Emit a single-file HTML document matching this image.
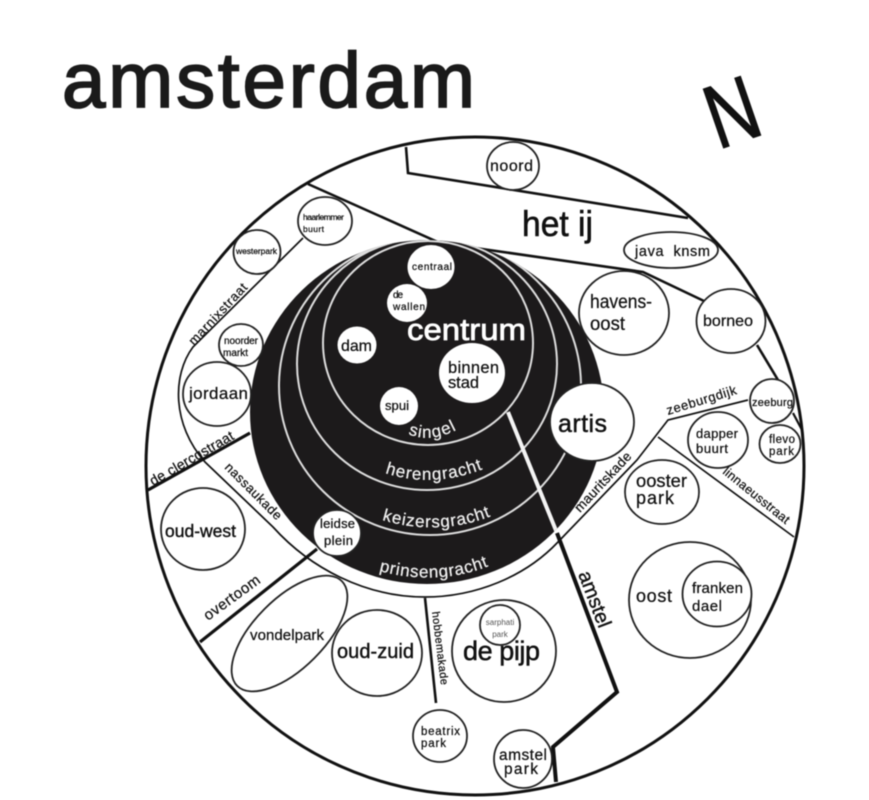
<!DOCTYPE html>
<html lang="nl">
<head>
<meta charset="utf-8">
<title>amsterdam</title>
<style>
html,body{margin:0;padding:0;background:#fff;}
svg{display:block;filter:blur(.4px);}
text{font-family:"Liberation Sans",sans-serif;fill:#111;stroke:#111;stroke-width:.25;}
.c{fill:#fff;stroke:#222;stroke-width:1.8;}
.l{fill:none;stroke:#111;stroke-width:1.7;}
.t{fill:none;stroke:#111;stroke-width:3.2;}
.r{fill:none;stroke:#ddd;stroke-width:2;}
</style>
</head>
<body>
<svg width="869" height="800" viewBox="0 0 869 800" xmlns="http://www.w3.org/2000/svg">
<defs>
<clipPath id="disc-clip"><ellipse cx="427" cy="412" rx="177" ry="172"/></clipPath>
<path id="p-singel" d="M408,434 Q432,444 460,428"/>
<path id="p-heren" d="M385,473 Q433,489 486,468"/>
<path id="p-keizers" d="M382,520 Q440,537 494,515"/>
<path id="p-prinsen" d="M379,571 Q440,587 494,564"/>
</defs>

<text x="62" y="107" font-size="78" textLength="413" style="fill:#1a1a1a;stroke:#1a1a1a;stroke-width:1.8">amsterdam</text>
<text transform="translate(732,112) rotate(-19) scale(.78,1)" y="31" text-anchor="middle" font-size="90" style="fill:#111;stroke:#111;stroke-width:1.4">N</text>

<circle cx="475" cy="466" r="329" fill="#fff" stroke="#111" stroke-width="3"/>

<path class="l" style="stroke-width:2.6" d="M406,147 L408,173 L688,218"/>
<path class="l" style="stroke-width:2.6" d="M308,184 L440,243 L643,272 L704,301"/>
<path class="l" style="stroke-width:2.6" d="M757,345 L778,380"/>
<path class="l" style="stroke-width:2.2" d="M793,413 L802,430"/>
<path class="l" d="M303,238 L193,347 C172,375 172,425 205,462 L273,527 C310,568 365,597 425,597 C475,597 525,577 558,542 L637,460 L668,420 L748,400"/>
<path class="l" d="M658,437 L794,537"/>
<path class="t" d="M148,490 L250,433"/>
<path class="t" d="M200,642 L317,549"/>
<path class="l" style="stroke-width:2.6" d="M425,598 L436,703"/>

<ellipse cx="427" cy="412" rx="177" ry="172" fill="#1c1a1b"/>
<g clip-path="url(#disc-clip)">
<ellipse class="r" cx="428" cy="343" rx="105" ry="102"/>
<ellipse class="r" cx="427" cy="364" rx="130" ry="126"/>
<ellipse class="r" cx="430" cy="386" rx="151" ry="149"/>
<path d="M508,412 L557,533" fill="none" stroke="#f4f4f4" stroke-width="4"/>
</g>
<path d="M557,533 L617,692 L553,747 L556,782" fill="none" stroke="#111" stroke-width="4"/>

<ellipse class="c" cx="513" cy="166" rx="26" ry="24"/>
<ellipse class="c" cx="671" cy="250" rx="47" ry="18"/>
<ellipse class="c" cx="624" cy="313" rx="45" ry="42"/>
<ellipse class="c" cx="731" cy="321" rx="34.5" ry="32"/>
<ellipse class="c" cx="592" cy="422" rx="42" ry="39"/>
<circle class="c" cx="772" cy="401" r="22"/>
<ellipse class="c" cx="718" cy="440" rx="30" ry="28"/>
<ellipse class="c" cx="780" cy="444" rx="20.5" ry="19"/>
<ellipse class="c" cx="662" cy="492" rx="37" ry="32"/>
<ellipse class="c" cx="690" cy="600" rx="61" ry="58"/>
<ellipse class="c" cx="717" cy="594" rx="34.5" ry="32.5"/>
<ellipse class="c" cx="504" cy="651" rx="52" ry="51"/>
<circle class="c" cx="500" cy="625" r="20"/>
<circle class="c" cx="523" cy="759" r="29"/>
<ellipse class="c" cx="440" cy="736" rx="27" ry="26"/>
<ellipse class="c" cx="377" cy="653" rx="45" ry="43"/>
<ellipse class="c" cx="203" cy="529" rx="42" ry="41"/>
<ellipse class="c" cx="289.5" cy="633.5" rx="74" ry="35" transform="rotate(-45 289.5 633.5)"/>
<ellipse class="c" cx="337" cy="533" rx="24" ry="23"/>
<ellipse class="c" cx="217" cy="394" rx="34" ry="32"/>
<ellipse class="c" cx="241" cy="345" rx="22" ry="21"/>
<ellipse class="c" cx="257" cy="252" rx="23.5" ry="22"/>
<ellipse class="c" cx="325" cy="221" rx="27" ry="24"/>
<ellipse cx="431" cy="267" rx="23.5" ry="22" fill="#fff"/>
<ellipse cx="407" cy="303" rx="20" ry="19" fill="#fff"/>
<ellipse cx="357" cy="345" rx="19.5" ry="18.5" fill="#fff"/>
<circle cx="399" cy="406" r="19" fill="#fff"/>
<ellipse cx="472" cy="373" rx="33" ry="30" fill="#fff"/>

<text x="522" y="236" font-size="36" textLength="71" lengthAdjust="spacingAndGlyphs" style="stroke-width:.6">het ij</text>
<text x="490" y="171" font-size="16" textLength="43">noord</text>
<text x="635" y="256" font-size="14.5" textLength="75">java&#160;&#160;knsm</text>
<text x="590" y="308" font-size="19" textLength="62" lengthAdjust="spacingAndGlyphs">havens-</text>
<text x="590" y="330" font-size="19" textLength="35" lengthAdjust="spacingAndGlyphs">oost</text>
<text x="703" y="326" font-size="16" textLength="50">borneo</text>
<text x="558" y="432" font-size="25" textLength="49" style="stroke-width:.5">artis</text>
<text x="752" y="406" font-size="11" textLength="41">zeeburg</text>
<text x="696" y="438" font-size="13" textLength="42">dapper</text>
<text x="696" y="453" font-size="13" textLength="32">buurt</text>
<text x="769" y="443" font-size="11.5" textLength="26">flevo</text>
<text x="769" y="455" font-size="11.5" textLength="25">park</text>
<text x="636" y="487" font-size="18" textLength="51" lengthAdjust="spacingAndGlyphs">ooster</text>
<text x="636" y="504" font-size="18" textLength="38">park</text>
<text x="636" y="602" font-size="18" textLength="36">oost</text>
<text x="692" y="593" font-size="15" textLength="51">franken</text>
<text x="692" y="611" font-size="15" textLength="30">dael</text>
<text x="500" y="625" text-anchor="middle" font-size="8" style="fill:#555;stroke:none">sarphati</text>
<text x="500" y="637" text-anchor="middle" font-size="8" style="fill:#555;stroke:none">park</text>
<text x="463" y="660" font-size="27" textLength="77" style="stroke-width:.5">de pijp</text>
<text x="499" y="760" font-size="15.5" textLength="48">amstel</text>
<text x="504" y="774" font-size="15.5" textLength="34">park</text>
<text x="421" y="735" font-size="11.5" textLength="39">beatrix</text>
<text x="421" y="747" font-size="11.5" textLength="25">park</text>
<text x="337" y="658" font-size="20" textLength="77" style="stroke-width:.4">oud-zuid</text>
<text x="250" y="640" font-size="15" textLength="74">vondelpark</text>
<text x="165" y="537" font-size="17.5" textLength="71" style="stroke-width:.4">oud-west</text>
<text x="320" y="528" font-size="13" textLength="35">leidse</text>
<text x="324" y="545" font-size="13" textLength="29">plein</text>
<text x="189" y="399" font-size="17" textLength="59">jordaan</text>
<text x="224" y="344" font-size="10" textLength="34">noorder</text>
<text x="223" y="356" font-size="10" textLength="25">markt</text>
<text x="236" y="254" font-size="8.5" textLength="41">westerpark</text>
<text x="303" y="220" font-size="8.5" textLength="41">haarlemmer</text>
<text x="303" y="232" font-size="8.5" textLength="21">buurt</text>
<text x="412" y="270" font-size="10" textLength="40">centraal</text>
<text x="393" y="298" font-size="10" textLength="10">de</text>
<text x="393" y="310" font-size="10" textLength="32">wallen</text>
<text x="341" y="351" font-size="16" textLength="31">dam</text>
<text x="385" y="410" font-size="13" textLength="24">spui</text>
<text x="448" y="373" font-size="16.5" textLength="51">binnen</text>
<text x="448" y="388" font-size="16.5" textLength="31">stad</text>
<text x="407" y="340" font-size="31" textLength="119" lengthAdjust="spacingAndGlyphs" style="fill:#fff;stroke:#fff;stroke-width:.8">centrum</text>

<text font-size="17" letter-spacing="1.2" style="fill:#f2f2f2;stroke:#f2f2f2"><textPath href="#p-singel">singel</textPath></text>
<text font-size="17" letter-spacing=".9" style="fill:#f2f2f2;stroke:#f2f2f2"><textPath href="#p-heren">herengracht</textPath></text>
<text font-size="17" letter-spacing=".8" style="fill:#f2f2f2;stroke:#f2f2f2"><textPath href="#p-keizers">keizersgracht</textPath></text>
<text font-size="17" letter-spacing=".7" style="fill:#f2f2f2;stroke:#f2f2f2"><textPath href="#p-prinsen">prinsengracht</textPath></text>

<text transform="translate(194,346) rotate(-47)" font-size="13" letter-spacing=".7">marnixstraat</text>
<text transform="translate(153,486) rotate(-30)" font-size="14" letter-spacing=".2">de clercqstraat</text>
<text transform="translate(224,468) rotate(45)" font-size="13" letter-spacing=".5">nassaukade</text>
<text transform="translate(208,621) rotate(-36)" font-size="15" letter-spacing=".5">overtoom</text>
<text transform="translate(580,513) rotate(-47)" font-size="13.5" letter-spacing=".3">mauritskade</text>
<text transform="translate(668,415) rotate(-17)" font-size="13" letter-spacing=".6">zeeburgdijk</text>
<text transform="translate(722,473) rotate(39)" font-size="12.5" letter-spacing=".3">linnaeusstraat</text>
<text transform="translate(578,574) rotate(69)" font-size="20" style="stroke-width:.4">amstel</text>
<text transform="translate(432,612) rotate(83)" font-size="11" letter-spacing=".4">hobbemakade</text>
</svg>
</body>
</html>
